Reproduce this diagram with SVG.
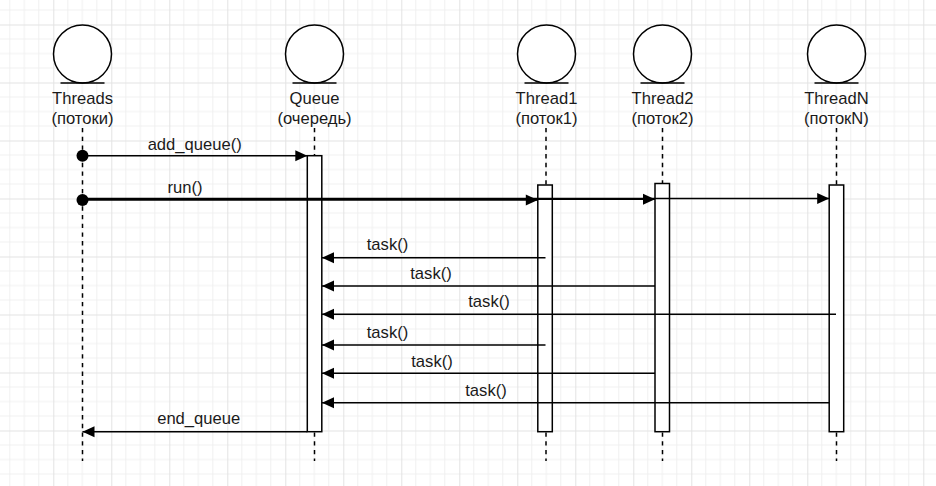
<svg xmlns="http://www.w3.org/2000/svg" width="936" height="486" viewBox="0 0 936 486">
<defs>
<pattern id="grid" patternUnits="userSpaceOnUse" x="-4.7" y="24.5" width="58" height="58">
<path d="M14.5,0V58M29,0V58M43.5,0V58M0,14.5H58M0,29H58M0,43.5H58" stroke="#f0f0f0" stroke-width="1" fill="none"/>
<path d="M0.5,0V58M0,0.5H58" stroke="#e3e3e3" stroke-width="1" fill="none"/>
</pattern>
<marker id="arr" markerUnits="userSpaceOnUse" markerWidth="13" markerHeight="12" refX="12" refY="5.5" orient="auto" overflow="visible">
<path d="M0,0 L12,5.5 L0,11 Z" fill="#000"/>
</marker>
<marker id="dot" markerUnits="userSpaceOnUse" markerWidth="14" markerHeight="14" refX="6" refY="6" orient="auto" overflow="visible">
<circle cx="6" cy="6" r="6" fill="#000"/>
</marker>
<style>
.ent{fill:#fff;stroke:#000;stroke-width:1.5}
.base{stroke:#000;stroke-width:1.5}
.life{stroke:#000;stroke-width:1.5;stroke-dasharray:4.35 4.35;fill:none}
.act{fill:#fff;stroke:#000;stroke-width:1.5}
.msg{stroke:#000;stroke-width:1.5;fill:none;marker-end:url(#arr)}
text{font-family:"Liberation Sans",Arial,sans-serif;font-size:16.6px;fill:#1a1a1a;text-anchor:middle}
</style>
</defs>
<rect width="936" height="486" fill="#fff"/>
<rect width="936" height="486" fill="url(#grid)"/>

<g id="lifelines">
<path class="life" d="M82.5,128V461"/>
<path class="life" d="M314.5,128V461"/>
<path class="life" d="M546,128V461"/>
<path class="life" d="M662.5,128V461"/>
<path class="life" d="M836.5,128V461"/>
</g>

<g id="threads">
<circle class="ent" cx="82.5" cy="54" r="29"/>
<path class="base" d="M60.5,83H104.5"/>
<text x="82.5" y="104">Threads</text>
<text x="82.5" y="123.5">(потоки)</text>
</g>

<g id="queue">
<circle class="ent" cx="314.5" cy="54" r="29"/>
<path class="base" d="M292.5,83H336.5"/>
<text x="314.5" y="104">Queue</text>
<text x="314.5" y="123.5">(очередь)</text>
<rect class="act" x="307.3" y="155.7" width="14.5" height="276"/>
</g>

<g id="thread1">
<circle class="ent" cx="546.5" cy="54" r="29"/>
<path class="base" d="M524.5,83H568.5"/>
<text x="546.5" y="104">Thread1</text>
<text x="546.5" y="123.5">(поток1)</text>
<rect class="act" x="537.8" y="185" width="14.5" height="246.7"/>
</g>

<g id="thread2">
<circle class="ent" cx="662.5" cy="54" r="29"/>
<path class="base" d="M640.5,83H684.5"/>
<text x="662.5" y="104">Thread2</text>
<text x="662.5" y="123.5">(поток2)</text>
<rect class="act" x="655" y="183.5" width="14.5" height="248.2"/>
</g>

<g id="threadN">
<circle class="ent" cx="836.5" cy="54" r="29"/>
<path class="base" d="M814.5,83H858.5"/>
<text x="836.5" y="104">ThreadN</text>
<text x="836.5" y="123.5">(потокN)</text>
<rect class="act" x="829.2" y="185" width="14.5" height="246.7"/>
</g>

<g id="connectors">
<path class="msg" d="M82.5,155.7H307.3" marker-start="url(#dot)"/>
<text x="194.7" y="149.5">add_queue()</text>
<path class="msg" d="M82.5,200H537.8" marker-start="url(#dot)"/>
<path class="msg" d="M82.5,199.3H655"/>
<path class="msg" d="M82.5,198.6H829.2"/>
<text x="185" y="192.5">run()</text>
<path class="msg" d="M545.5,257.7H322"/>
<text x="387.5" y="250">task()</text>
<path class="msg" d="M655,286H322"/>
<text x="431" y="278.5">task()</text>
<path class="msg" d="M836,314.3H322"/>
<text x="489" y="306.7">task()</text>
<path class="msg" d="M545.5,345H322"/>
<text x="387.5" y="337.5">task()</text>
<path class="msg" d="M655,373.3H322"/>
<text x="432" y="366.5">task()</text>
<path class="msg" d="M829.2,402.7H322"/>
<text x="486" y="395.5">task()</text>
<path class="msg" d="M307.3,431.7H82.5"/>
<text x="198.7" y="423.5">end_queue</text>
</g>
</svg>
